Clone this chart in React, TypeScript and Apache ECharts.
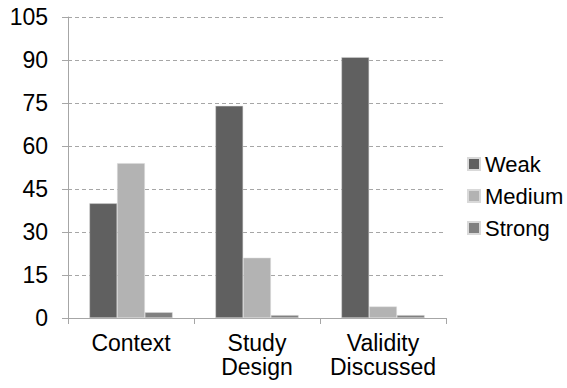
import React, { useEffect, useRef } from "react";
import * as echarts from "echarts";

const categories = ["Context", "Study\nDesign", "Validity\nDiscussed"];
const weak = [40, 74, 91];
const medium = [54, 21, 4];
const strong = [2, 1, 1];
const seriesNames = ["Weak", "Medium", "Strong"];
const colors = ["#606060", "#b3b3b3", "#808080"];

export default function App() {
  const ref = useRef<HTMLDivElement>(null);
  useEffect(() => {
    const chart = echarts.init(ref.current!, null, { renderer: "svg" });
    const font = "'Liberation Sans', Arial, sans-serif";
    const data = [weak, medium, strong];
    chart.setOption({
      animation: false,
      grid: { left: 68, top: 17, right: 121, bottom: 70 },
      legend: {
        orient: "vertical",
        left: 467,
        top: 153,
        itemWidth: 12,
        itemHeight: 12,
        itemGap: 10,
        icon: "rect",
        padding: 0,
        textStyle: { fontFamily: font, fontSize: 22, color: "#000", padding: [0, 0, 0, 0] },
        data: seriesNames,
      },
      xAxis: {
        type: "category",
        data: categories,
        axisLine: { lineStyle: { color: "#a6a6a6", width: 1 } },
        axisTick: { show: true, length: 6, lineStyle: { color: "#a6a6a6" } },
        axisLabel: {
          interval: 0,
          fontFamily: font,
          fontSize: 23,
          color: "#000",
          margin: 13,
          lineHeight: 24,
        },
      },
      yAxis: {
        type: "value",
        min: 0,
        max: 105,
        interval: 15,
        axisLine: { show: true, lineStyle: { color: "#a6a6a6", width: 1 } },
        axisTick: { show: true, length: 6, lineStyle: { color: "#a6a6a6" } },
        axisLabel: { fontFamily: font, fontSize: 23, color: "#000", margin: 20 },
        splitLine: {
          show: true,
          lineStyle: { color: "#a6a6a6", type: [4, 3], width: 1 },
        },
      },
      series: seriesNames.map((name, i) => ({
        name,
        type: "bar",
        data: data[i],
        barGap: "0%",
        barCategoryGap: "34%",
        itemStyle: { color: colors[i], borderColor: "#d9d9d9", borderWidth: 0.5 },
      })),
    });
    return () => chart.dispose();
  }, []);
  return <div ref={ref} style={{ width: 567, height: 388, position: "absolute", left: 0, top: 0 }} />;
}
